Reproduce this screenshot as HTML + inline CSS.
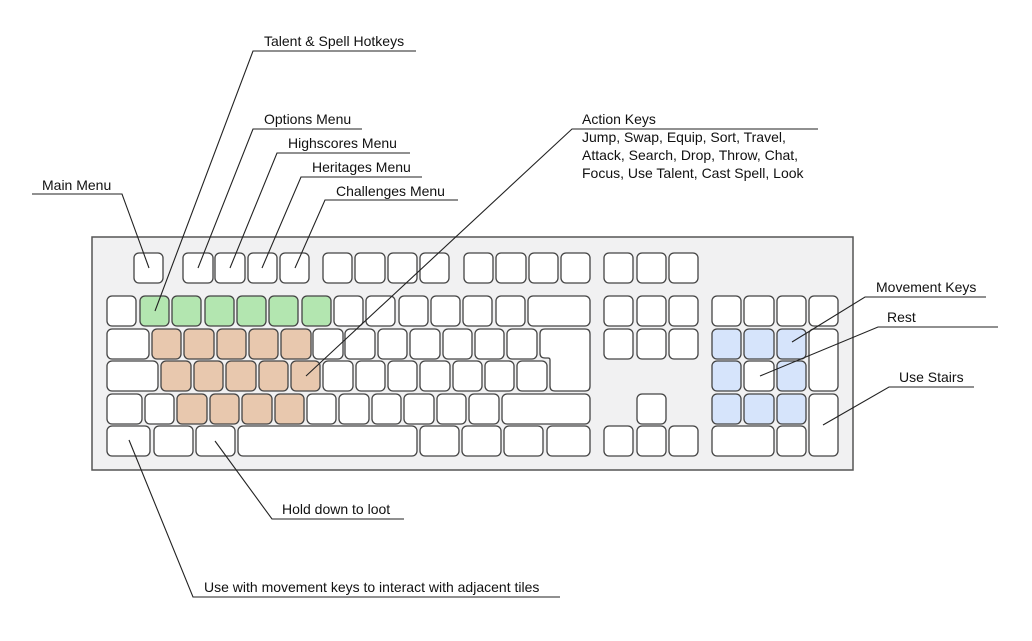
<!DOCTYPE html>
<html><head><meta charset="utf-8"><style>
html,body{margin:0;padding:0;background:#fff;}
svg{display:block;}
text{font-family:"Liberation Sans",Arial,sans-serif;font-size:14px;fill:#111;}
.k{fill:#fff;stroke:#444;stroke-width:1.3;}
.g{fill:#b3e6b0;}
.o{fill:#e8c8ae;}
.b{fill:#d6e4fb;}
.l{stroke:#222;stroke-width:1.1;fill:none;}
</style></head><body>
<svg width="1032" height="641" viewBox="0 0 1032 641">
<rect x="92" y="237" width="761" height="233" fill="#f1f1f2" stroke="#555" stroke-width="1.5"/>
<g id="keys">
<rect class="k" x="134" y="253" width="29" height="30" rx="5"/>
<rect class="k" x="183" y="253" width="30" height="30" rx="5"/>
<rect class="k" x="215" y="253" width="30" height="30" rx="5"/>
<rect class="k" x="248" y="253" width="29" height="30" rx="5"/>
<rect class="k" x="280" y="253" width="29" height="30" rx="5"/>
<rect class="k" x="323" y="253" width="29" height="30" rx="5"/>
<rect class="k" x="355" y="253" width="30" height="30" rx="5"/>
<rect class="k" x="388" y="253" width="29" height="30" rx="5"/>
<rect class="k" x="420" y="253" width="29" height="30" rx="5"/>
<rect class="k" x="464" y="253" width="29" height="30" rx="5"/>
<rect class="k" x="496" y="253" width="30" height="30" rx="5"/>
<rect class="k" x="529" y="253" width="29" height="30" rx="5"/>
<rect class="k" x="561" y="253" width="29" height="30" rx="5"/>
<rect class="k" x="604" y="253" width="29" height="30" rx="5"/>
<rect class="k" x="637" y="253" width="29" height="30" rx="5"/>
<rect class="k" x="669" y="253" width="29" height="30" rx="5"/>
<rect class="k" x="107" y="296" width="29" height="30" rx="5"/>
<rect class="k g" x="140" y="296" width="29" height="30" rx="5"/>
<rect class="k g" x="172" y="296" width="29" height="30" rx="5"/>
<rect class="k g" x="205" y="296" width="29" height="30" rx="5"/>
<rect class="k g" x="237" y="296" width="29" height="30" rx="5"/>
<rect class="k g" x="269" y="296" width="29" height="30" rx="5"/>
<rect class="k g" x="302" y="296" width="29" height="30" rx="5"/>
<rect class="k" x="334" y="296" width="29" height="30" rx="5"/>
<rect class="k" x="366" y="296" width="29" height="30" rx="5"/>
<rect class="k" x="399" y="296" width="29" height="30" rx="5"/>
<rect class="k" x="431" y="296" width="29" height="30" rx="5"/>
<rect class="k" x="463" y="296" width="29" height="30" rx="5"/>
<rect class="k" x="496" y="296" width="29" height="30" rx="5"/>
<rect class="k" x="528" y="296" width="62" height="30" rx="5"/>
<rect class="k" x="604" y="296" width="29" height="30" rx="5"/>
<rect class="k" x="637" y="296" width="29" height="30" rx="5"/>
<rect class="k" x="669" y="296" width="29" height="30" rx="5"/>
<rect class="k" x="712" y="296" width="29" height="30" rx="5"/>
<rect class="k" x="744" y="296" width="30" height="30" rx="5"/>
<rect class="k" x="777" y="296" width="29" height="30" rx="5"/>
<rect class="k" x="809" y="296" width="29" height="30" rx="5"/>
<rect class="k" x="107" y="329" width="42" height="30" rx="5"/>
<rect class="k o" x="152" y="329" width="29" height="30" rx="5"/>
<rect class="k o" x="184" y="329" width="30" height="30" rx="5"/>
<rect class="k o" x="217" y="329" width="29" height="30" rx="5"/>
<rect class="k o" x="249" y="329" width="29" height="30" rx="5"/>
<rect class="k o" x="281" y="329" width="30" height="30" rx="5"/>
<rect class="k" x="313" y="329" width="30" height="30" rx="5"/>
<rect class="k" x="345" y="329" width="30" height="30" rx="5"/>
<rect class="k" x="378" y="329" width="29" height="30" rx="5"/>
<rect class="k" x="410" y="329" width="30" height="30" rx="5"/>
<rect class="k" x="443" y="329" width="29" height="30" rx="5"/>
<rect class="k" x="475" y="329" width="29" height="30" rx="5"/>
<rect class="k" x="507" y="329" width="30" height="30" rx="5"/>
<path class="k" d="M545 329 H585 Q590 329 590 334 V386 Q590 391 585 391 H555 Q550 391 550 386 V360 Q550 358 548 358 H545 Q540 358 540 353 V334 Q540 329 545 329 Z"/>
<rect class="k" x="604" y="329" width="29" height="30" rx="5"/>
<rect class="k" x="637" y="329" width="29" height="30" rx="5"/>
<rect class="k" x="669" y="329" width="29" height="30" rx="5"/>
<rect class="k b" x="712" y="329" width="29" height="30" rx="5"/>
<rect class="k b" x="744" y="329" width="30" height="30" rx="5"/>
<rect class="k b" x="777" y="329" width="29" height="30" rx="5"/>
<rect class="k" x="809" y="329" width="29" height="62" rx="5"/>
<rect class="k" x="107" y="361" width="51" height="30" rx="5"/>
<rect class="k o" x="161" y="361" width="30" height="30" rx="5"/>
<rect class="k o" x="194" y="361" width="29" height="30" rx="5"/>
<rect class="k o" x="226" y="361" width="30" height="30" rx="5"/>
<rect class="k o" x="259" y="361" width="29" height="30" rx="5"/>
<rect class="k o" x="291" y="361" width="29" height="30" rx="5"/>
<rect class="k" x="323" y="361" width="30" height="30" rx="5"/>
<rect class="k" x="356" y="361" width="29" height="30" rx="5"/>
<rect class="k" x="388" y="361" width="29" height="30" rx="5"/>
<rect class="k" x="420" y="361" width="30" height="30" rx="5"/>
<rect class="k" x="453" y="361" width="29" height="30" rx="5"/>
<rect class="k" x="485" y="361" width="29" height="30" rx="5"/>
<rect class="k" x="517" y="361" width="30" height="30" rx="5"/>
<rect class="k b" x="712" y="361" width="29" height="30" rx="5"/>
<rect class="k" x="744" y="361" width="30" height="30" rx="5"/>
<rect class="k b" x="777" y="361" width="29" height="30" rx="5"/>
<rect class="k" x="107" y="394" width="35" height="30" rx="5"/>
<rect class="k" x="145" y="394" width="29" height="30" rx="5"/>
<rect class="k o" x="177" y="394" width="30" height="30" rx="5"/>
<rect class="k o" x="210" y="394" width="29" height="30" rx="5"/>
<rect class="k o" x="242" y="394" width="30" height="30" rx="5"/>
<rect class="k o" x="275" y="394" width="29" height="30" rx="5"/>
<rect class="k" x="307" y="394" width="29" height="30" rx="5"/>
<rect class="k" x="339" y="394" width="30" height="30" rx="5"/>
<rect class="k" x="372" y="394" width="29" height="30" rx="5"/>
<rect class="k" x="404" y="394" width="30" height="30" rx="5"/>
<rect class="k" x="437" y="394" width="29" height="30" rx="5"/>
<rect class="k" x="469" y="394" width="30" height="30" rx="5"/>
<rect class="k" x="502" y="394" width="88" height="30" rx="5"/>
<rect class="k" x="637" y="394" width="29" height="30" rx="5"/>
<rect class="k b" x="712" y="394" width="29" height="30" rx="5"/>
<rect class="k b" x="744" y="394" width="30" height="30" rx="5"/>
<rect class="k b" x="777" y="394" width="29" height="30" rx="5"/>
<rect class="k" x="809" y="394" width="29" height="62" rx="5"/>
<rect class="k" x="107" y="426" width="43" height="30" rx="5"/>
<rect class="k" x="154" y="426" width="39" height="30" rx="5"/>
<rect class="k" x="196" y="426" width="39" height="30" rx="5"/>
<rect class="k" x="238" y="426" width="179" height="30" rx="5"/>
<rect class="k" x="420" y="426" width="39" height="30" rx="5"/>
<rect class="k" x="462" y="426" width="39" height="30" rx="5"/>
<rect class="k" x="504" y="426" width="39" height="30" rx="5"/>
<rect class="k" x="547" y="426" width="43" height="30" rx="5"/>
<rect class="k" x="604" y="426" width="29" height="30" rx="5"/>
<rect class="k" x="637" y="426" width="29" height="30" rx="5"/>
<rect class="k" x="669" y="426" width="29" height="30" rx="5"/>
<rect class="k" x="712" y="426" width="62" height="30" rx="5"/>
<rect class="k" x="777" y="426" width="29" height="30" rx="5"/>
</g>
<polyline class="l" points="155,311 253,51 416,51"/>
<polyline class="l" points="198,268 253,129 362,129"/>
<polyline class="l" points="230,268 277,153 410,153"/>
<polyline class="l" points="262,268 301,177 422,177"/>
<polyline class="l" points="295,268 325,200 458,200"/>
<polyline class="l" points="149,268 122,194 32,194"/>
<polyline class="l" points="306,376 572,129 818,129"/>
<polyline class="l" points="792,342 865,297 986,297"/>
<polyline class="l" points="760,376 878,327 998,327"/>
<polyline class="l" points="823,425 889,387 974,387"/>
<polyline class="l" points="215,441 272,519 404,519"/>
<polyline class="l" points="129,440 193,597 560,597"/>
<g>
<text x="264" y="46">Talent &amp; Spell Hotkeys</text>
<text x="264" y="124">Options Menu</text>
<text x="288" y="148">Highscores Menu</text>
<text x="312" y="172">Heritages Menu</text>
<text x="336" y="196">Challenges Menu</text>
<text x="42" y="190">Main Menu</text>
<text x="582" y="124">Action Keys</text>
<text x="582" y="142">Jump, Swap, Equip, Sort, Travel,</text>
<text x="582" y="160">Attack, Search, Drop, Throw, Chat,</text>
<text x="582" y="178">Focus, Use Talent, Cast Spell, Look</text>
<text x="876" y="292">Movement Keys</text>
<text x="887" y="322">Rest</text>
<text x="899" y="382">Use Stairs</text>
<text x="282" y="514">Hold down to loot</text>
<text x="204" y="592">Use with movement keys to interact with adjacent tiles</text>
</g>
</svg>
</body></html>
